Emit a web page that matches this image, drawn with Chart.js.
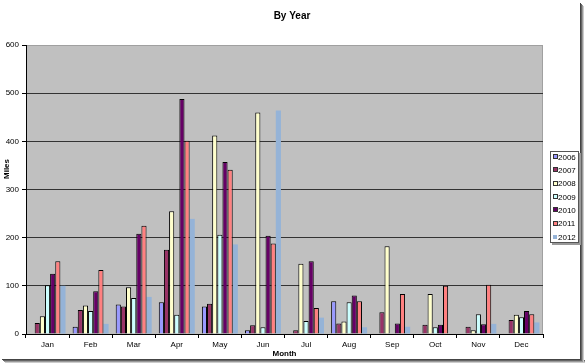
<!DOCTYPE html>
<html>
<head>
<meta charset="utf-8">
<script src="https://cdn.jsdelivr.net/npm/chart.js@4.4.1/dist/chart.umd.min.js"></script>
<style>
html,body{margin:0;padding:0;background:#fff;}
canvas{display:block;}
</style>
</head>
<body>
<canvas id="c" width="585" height="363"></canvas>
<script>
const months = ['Jan','Feb','Mar','Apr','May','Jun','Jul','Aug','Sep','Oct','Nov','Dec'];
const years = ['2006','2007','2008','2009','2010','2011','2012'];
const y2006 = [null,15,61,66,57,8,null,68,null,null,null,null];
const y2007 = [23,50,57,175,63,18,8,22,45,19,15,29];
const y2008 = [37,59,97,255,412,460,146,26,182,83,8,40];
const y2009 = [101,48,75,40,206,14,27,66,null,14,41,35];
const y2010 = [125,89,208,488,357,204,151,80,22,19,20,48];
const y2011 = [151,133,225,401,341,188,54,68,83,100,102,41];
const y2012 = [100,21,77,239,186,464,34,14,15,null,21,24];
const yTicks = [0,100,200,300,400,500,600];

const seriesValues = [y2006,y2007,y2008,y2009,y2010,y2011,y2012];
const colors = ['#9999FF','#993366','#FFFFCC','#CCFFFF','#660066','#FF8080','#95B3D7'];
const FONT = "'Liberation Sans', Arial, sans-serif";

const datasets = years.map((y,i)=>({
  label: y,
  data: seriesValues[i],
  backgroundColor: colors[i],
  borderColor: '#000',
  borderWidth: i === 6 ? 0 : 1,
  categoryPercentage: 0.835,
  barPercentage: 1.0
}));

const decor = {
  id: 'decor',
  beforeDraw(chart){
    const {ctx, chartArea:a} = chart;
    ctx.save();
    // frame shadow
    const sh = ['#444','#666','#999','#ccc'];
    for(let k=0;k<4;k++){
      ctx.fillStyle = sh[k];
      ctx.fillRect(580+k, 3+k, 1, 360);
      ctx.fillRect(2+k, 359+k, 582, 1);
    }
    ctx.fillStyle = '#C0C0C0';
    ctx.fillRect(a.left, a.top, a.right-a.left, a.bottom-a.top);
    ctx.strokeStyle = '#a0a0a0';
    ctx.lineWidth = 1;
    ctx.strokeRect(a.left+0.5, a.top+0.5, a.right-a.left-1, a.bottom-a.top);
    ctx.restore();
  },
  afterDraw(chart){
    const {ctx, chartArea:a} = chart;
    ctx.save();
    // Title
    ctx.fillStyle = '#000';
    ctx.font = "bold 10px " + FONT;
    ctx.textAlign = 'center';
    ctx.textBaseline = 'middle';
    ctx.fillText('By Year', 292, 16);
    // Axis titles
    ctx.font = "bold 8px " + FONT;
    ctx.fillText('Month', (a.left+a.right)/2, 354);
    ctx.save();
    ctx.translate(7, 169);
    ctx.rotate(-Math.PI/2);
    ctx.fillText('Miles', 0, 0);
    ctx.restore();
    // Legend
    const lx = 550, ly = 151, lw = 29, lh = 92;
    ctx.fillStyle = '#999';
    ctx.fillRect(lx+2, ly+2, lw, lh);
    ctx.fillStyle = '#fff';
    ctx.fillRect(lx, ly, lw, lh);
    ctx.strokeStyle = '#555';
    ctx.strokeRect(lx+0.5, ly+0.5, lw-1, lh-1);
    ctx.font = "8px " + FONT;
    ctx.textAlign = 'left';
    chart.data.datasets.forEach((ds,i)=>{
      const cy = ly + 6 + i*13.3;
      ctx.fillStyle = ds.backgroundColor;
      ctx.fillRect(553, Math.round(cy)-2, 4, 4);
      if (ds.borderWidth){
        ctx.strokeStyle = '#333';
        ctx.strokeRect(553.5, Math.round(cy)-2.5, 4, 4);
      }
      ctx.fillStyle = '#000';
      ctx.fillText(ds.label, 558, cy+0.5);
    });
    ctx.restore();
  }
};

new Chart(document.getElementById('c'), {
  type: 'bar',
  data: { labels: months, datasets },
  options: {
    responsive: false,
    animation: false,
    events: [],
    layout: { padding: { left: 0, right: 42, top: 45, bottom: 0 } },
    plugins: { legend: { display: false }, title: { display: false }, tooltip: { enabled: false } },
    scales: {
      x: {
        afterFit(s){ s.height = 29; },
        grid: { display: true, drawOnChartArea: false, drawTicks: true, tickLength: 4, color: '#000', offset: true },
        border: { color: '#000', width: 1 },
        ticks: { color: '#000', font: { family: FONT, size: 8 }, padding: 2, maxRotation: 0 }
      },
      y: {
        min: 0, max: 600,
        afterFit(s){ s.width = 26; },
        afterBuildTicks(s){ s.ticks = yTicks.map(v=>({value:v})); },
        grid: {
          color: ctx => ctx.tick && ctx.tick.value === 600 ? '#a0a0a0' : '#333',
          tickColor: '#000', tickLength: 4, drawTicks: true
        },
        border: { color: '#000', width: 1 },
        ticks: { color: '#000', font: { family: FONT, size: 8 }, padding: 3 }
      }
    }
  },
  plugins: [decor]
});
</script>
</body>
</html>
